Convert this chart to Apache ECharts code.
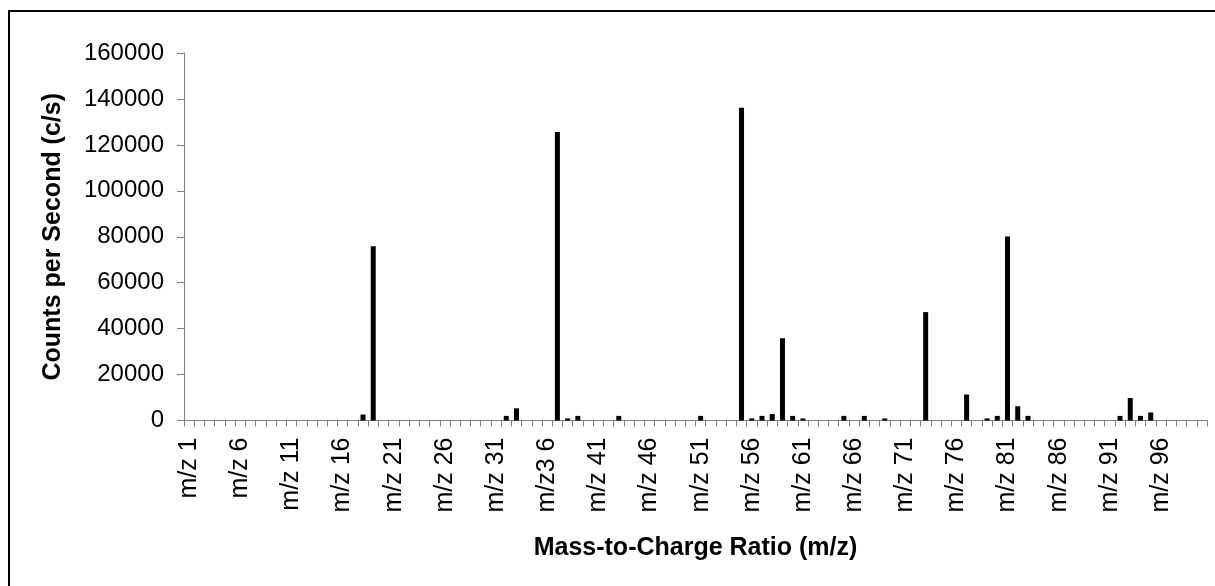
<!DOCTYPE html>
<html>
<head>
<meta charset="utf-8">
<script src="https://cdn.jsdelivr.net/npm/echarts@6/dist/echarts.min.js"></script>
<style>
  html, body { margin: 0; padding: 0; background: #fff; }
  #chart { width: 1215px; height: 586px; }
</style>
</head>
<body>
<div id="chart"></div>
<script>
// categories m/z 1 .. m/z 100 (the label under 36 really reads "m/z3 6")
var massLabels = [];
for (var i = 1; i <= 100; i++) {
    massLabels.push(i === 36 ? 'm/z3 6' : 'm/z ' + i);
}

// counts per second
var countsPerSecond = [
    0, 0, 0, 0, 0, 0, 0, 0, 0, 0,
    0, 0, 0, 0, 0, 0, 0, 2600, 75900, 0,
    0, 0, 0, 0, 0, 0, 0, 0, 0, 0,
    0, 2000, 5300, 0, 0, 0, 125600, 900, 2000, 0,
    0, 0, 2000, 0, 0, 0, 0, 0, 0, 0,
    2000, 0, 0, 0, 136200, 900, 2000, 2800, 35800, 2000,
    900, 0, 0, 0, 2000, 0, 2000, 0, 900, 0,
    0, 0, 47200, 0, 0, 0, 11300, 0, 900, 2000,
    80100, 6200, 2000, 0, 0, 0, 0, 0, 0, 0,
    0, 2000, 9800, 2000, 3500, 0, 0, 0, 0, 0
];

var fontFam = '"Liberation Sans", Arial, sans-serif';

var myChart = echarts.init(document.getElementById('chart'));

var option = {
    animation: false,
    backgroundColor: '#ffffff',
    graphic: [{
        type: 'rect',
        shape: { x: 9, y: 11, width: 1300, height: 700 },
        style: { fill: 'none', stroke: '#000', lineWidth: 2 },
        silent: true
    }],
    grid: { left: 184, right: 8, top: 53, bottom: 165.5 },
    xAxis: {
        type: 'category',
        data: massLabels,
        name: 'Mass-to-Charge Ratio (m/z)',
        nameLocation: 'middle',
        nameGap: 115,
        nameTextStyle: { fontFamily: fontFam, fontSize: 25, fontWeight: 'bold', color: '#000' },
        axisLine: { lineStyle: { color: '#808080', width: 1 } },
        axisTick: { show: true, interval: 0, length: 6, lineStyle: { color: '#808080' } },
        axisLabel: {
            interval: 4,
            rotate: 90,
            margin: 17,
            fontFamily: fontFam,
            fontSize: 25,
            color: '#000'
        },
        splitLine: { show: false }
    },
    yAxis: {
        type: 'value',
        min: 0,
        max: 160000,
        interval: 20000,
        name: 'Counts per Second (c/s)',
        nameLocation: 'middle',
        nameGap: 118,
        nameTextStyle: { fontFamily: fontFam, fontSize: 25, fontWeight: 'bold', color: '#000' },
        axisLine: { show: true, lineStyle: { color: '#808080', width: 1 } },
        axisTick: { show: true, length: 7, lineStyle: { color: '#808080' } },
        axisLabel: {
            margin: 20,
            fontFamily: fontFam,
            fontSize: 24,
            color: '#000',
            formatter: function (v) { return String(v); }
        },
        splitLine: { show: false }
    },
    series: [{
        name: 'counts',
        type: 'bar',
        data: countsPerSecond,
        barWidth: 5,
        itemStyle: { color: '#000' }
    }]
};

myChart.setOption(option);
</script>
</body>
</html>
